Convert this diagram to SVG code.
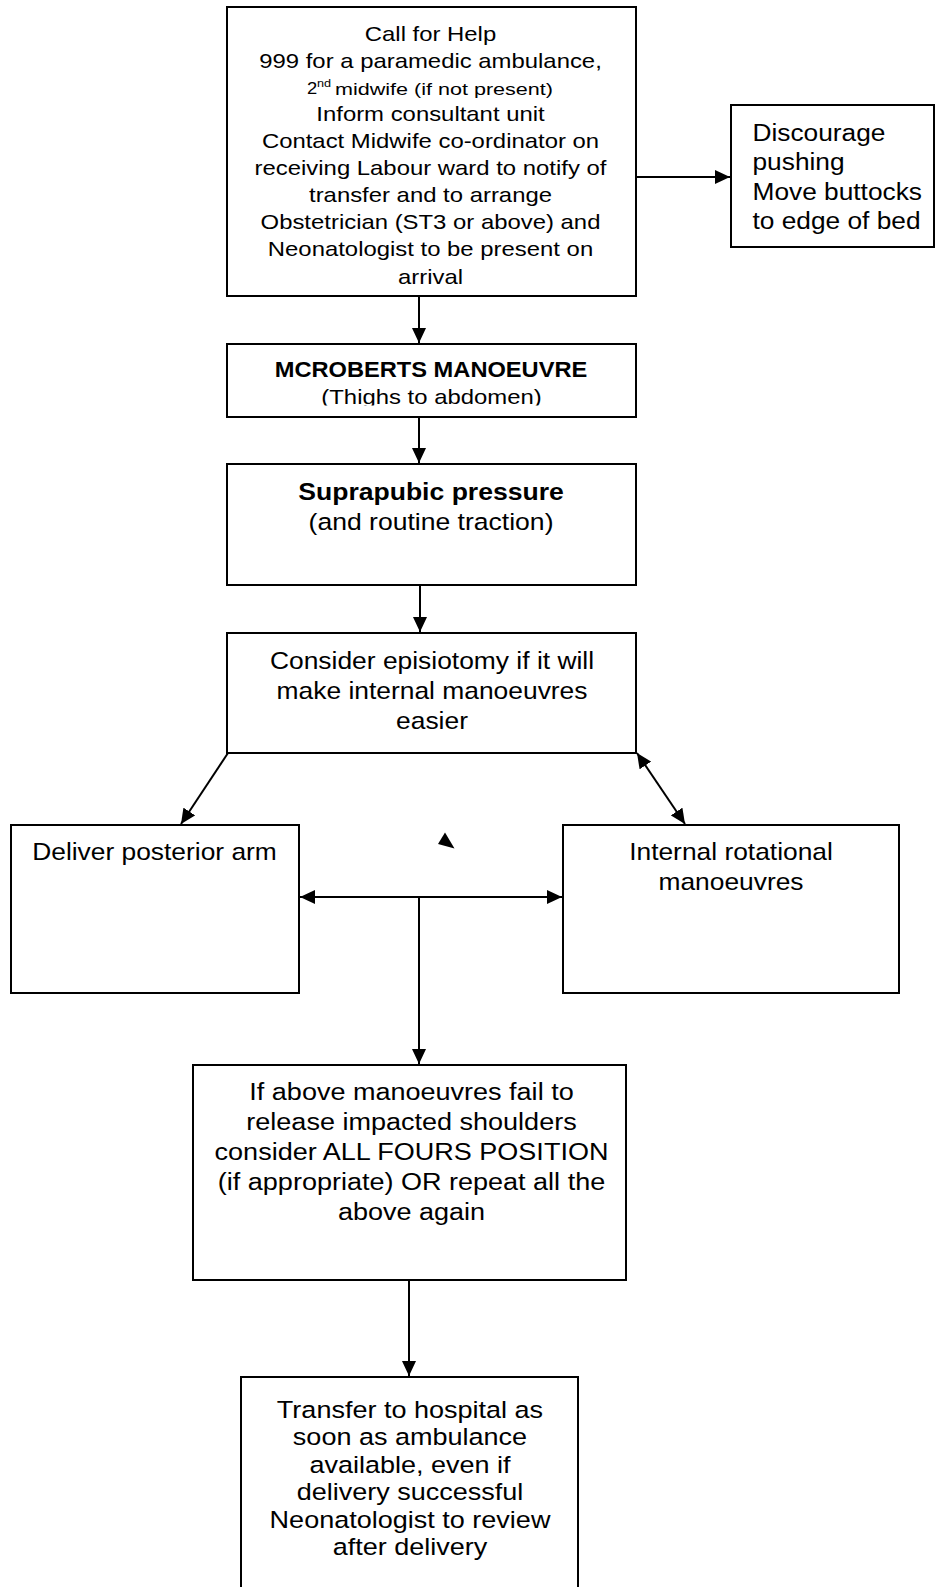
<svg xmlns="http://www.w3.org/2000/svg" width="936" height="1587" viewBox="0 0 936 1587">
<style>
.box{fill:#fff;stroke:#000;stroke-width:2}
.t{font-family:"Liberation Sans",Arial,sans-serif;fill:#000;text-anchor:middle}
.l{font-family:"Liberation Sans",Arial,sans-serif;fill:#000;text-anchor:start}
.c{stroke:#000;stroke-width:2;fill:none}
.b{font-weight:bold}
</style>
<defs>
<marker id="ah" markerUnits="userSpaceOnUse" markerWidth="15" markerHeight="14" refX="15" refY="7" orient="auto-start-reverse"><path d="M0,0 L15,7 L0,14 z" fill="#000"/></marker>
<clipPath id="clipMc"><rect x="227" y="344" width="409" height="61.5"/></clipPath>
</defs>
<rect width="936" height="1587" fill="#fff"/>

<g id="connectors">
<line class="c" x1="637" y1="177" x2="730" y2="177" marker-end="url(#ah)"/>
<line class="c" x1="419" y1="297" x2="419" y2="343" marker-end="url(#ah)"/>
<line class="c" x1="419" y1="418" x2="419" y2="463" marker-end="url(#ah)"/>
<line class="c" x1="420" y1="586" x2="420" y2="632" marker-end="url(#ah)"/>
<line class="c" x1="228" y1="753" x2="181" y2="824" marker-end="url(#ah)"/>
<line class="c" x1="637" y1="753" x2="685" y2="824" marker-start="url(#ah)" marker-end="url(#ah)"/>
<line class="c" x1="300" y1="897" x2="562" y2="897" marker-start="url(#ah)" marker-end="url(#ah)"/>
<line class="c" x1="419" y1="897" x2="419" y2="1064" marker-end="url(#ah)"/>
<line class="c" x1="409" y1="1281" x2="409" y2="1376" marker-end="url(#ah)"/>
<polygon points="445,832.5 438,844 454.5,848.5" fill="#000"/>
</g>

<g id="call-help">
<rect class="box" x="227" y="7" width="409" height="289"/>
<g transform="translate(430.5 0) scale(1.166 1)" font-size="20.5">
<text class="t" x="0" y="41">Call for Help</text>
<text class="t" x="0" y="68">999 for a paramedic ambulance,</text>
<text class="t" x="0" y="121">Inform consultant unit</text>
<text class="t" x="0" y="148">Contact Midwife co-ordinator on</text>
<text class="t" x="0" y="175.5">receiving Labour ward to notify of</text>
<text class="t" x="0" y="202.5">transfer and to arrange</text>
<text class="t" x="0" y="229.5">Obstetrician (ST3 or above) and</text>
<text class="t" x="0" y="256.5">Neonatologist to be present on</text>
<text class="t" x="0" y="284">arrival</text>
</g>
<text class="l" x="307" y="94.5" font-size="16" transform="translate(307 0) scale(1.15 1) translate(-307 0)">2</text>
<text class="l" x="317" y="87.5" font-size="11" transform="translate(317 0) scale(1.15 1) translate(-317 0)">nd</text>
<text class="l" x="335" y="94.5" font-size="16" textLength="218" lengthAdjust="spacingAndGlyphs">midwife (if not present)</text>
</g>

<g id="discourage">
<rect class="box" x="731" y="105" width="203" height="142"/>
<g transform="translate(752.5 0) scale(1.11 1)" font-size="23.7">
<text class="l" x="0" y="141">Discourage</text>
<text class="l" x="0" y="170.5">pushing</text>
<text class="l" x="0" y="200">Move buttocks</text>
<text class="l" x="0" y="229.5">to edge of bed</text>
</g>
</g>

<g id="mcroberts">
<rect class="box" x="227" y="344" width="409" height="73"/>
<g transform="translate(431 0) scale(1.10 1)">
<text class="t b" x="0" y="377" font-size="21.5">MCROBERTS MANOEUVRE</text>
</g>
<g clip-path="url(#clipMc)">
<g transform="translate(431.5 0) scale(1.166 1)">
<text class="t" x="0" y="404.5" font-size="20.5">(Thighs to abdomen)</text>
</g>
</g>
</g>

<g id="suprapubic">
<rect class="box" x="227" y="464" width="409" height="121"/>
<g transform="translate(431 0) scale(1.14 1)" font-size="23.3">
<text class="t b" x="0" y="500">Suprapubic pressure</text>
<text class="t" x="0" y="530">(and routine traction)</text>
</g>
</g>

<g id="episiotomy">
<rect class="box" x="227" y="633" width="409" height="120"/>
<g transform="translate(432 0) scale(1.10 1)" font-size="24">
<text class="t" x="0" y="669">Consider episiotomy if it will</text>
<text class="t" x="0" y="699">make internal manoeuvres</text>
<text class="t" x="0" y="729">easier</text>
</g>
</g>

<g id="posterior-arm">
<rect class="box" x="11" y="825" width="288" height="168"/>
<g transform="translate(154.5 0) scale(1.09 1)" font-size="24.2">
<text class="t" x="0" y="860.5">Deliver posterior arm</text>
</g>
</g>

<g id="internal-rotational">
<rect class="box" x="563" y="825" width="336" height="168"/>
<g transform="translate(731 0) scale(1.09 1)" font-size="24.2">
<text class="t" x="0" y="860.5">Internal rotational</text>
<text class="t" x="0" y="890">manoeuvres</text>
</g>
</g>

<g id="all-fours">
<rect class="box" x="193" y="1065" width="433" height="215"/>
<g transform="translate(411.5 0) scale(1.16 1)" font-size="23.3">
<text class="t" x="0" y="1100">If above manoeuvres fail to</text>
<text class="t" x="0" y="1130">release impacted shoulders</text>
<text class="t" x="0" y="1160">consider ALL FOURS POSITION</text>
<text class="t" x="0" y="1190">(if appropriate) OR repeat all the</text>
<text class="t" x="0" y="1220.5">above again</text>
</g>
</g>

<g id="transfer">
<rect class="box" x="241" y="1377" width="337" height="230"/>
<g transform="translate(410 0) scale(1.15 1)" font-size="23.5">
<text class="t" x="0" y="1418">Transfer to hospital as</text>
<text class="t" x="0" y="1445.5">soon as ambulance</text>
<text class="t" x="0" y="1473">available, even if</text>
<text class="t" x="0" y="1500.5">delivery successful</text>
<text class="t" x="0" y="1528">Neonatologist to review</text>
<text class="t" x="0" y="1555">after delivery</text>
</g>
</g>
</svg>
